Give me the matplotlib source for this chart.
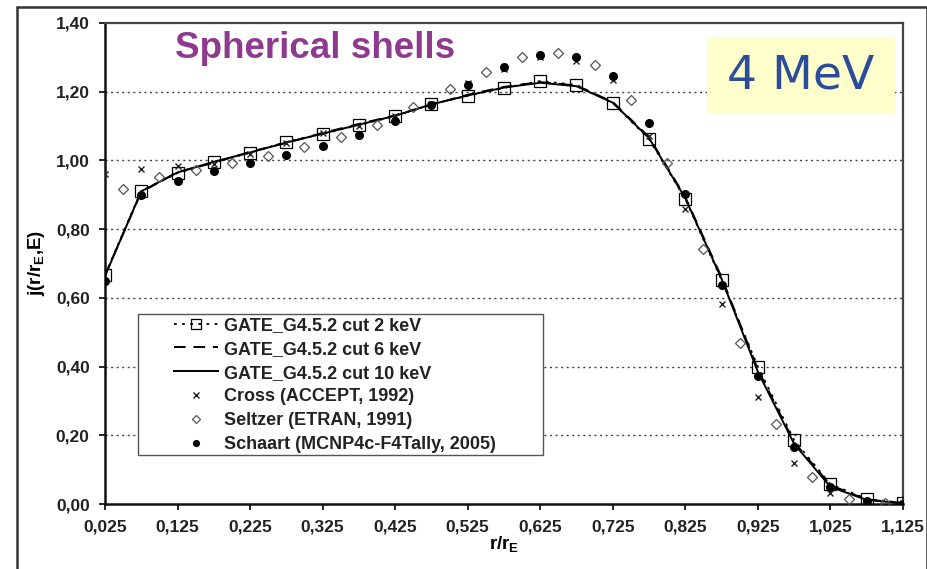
import matplotlib
import matplotlib.pyplot as plt
from matplotlib.patches import Rectangle

matplotlib.use("Agg")

plt.rcParams["font.family"] = ["Liberation Sans", "DejaVu Sans"]
plt.rcParams["mathtext.fontset"] = "custom"
plt.rcParams["mathtext.rm"] = "Liberation Sans:bold"
plt.rcParams["mathtext.bf"] = "Liberation Sans:bold"

# --- data ---
x_gate = [0.025, 0.075, 0.125, 0.175, 0.225, 0.275, 0.325, 0.375, 0.425, 0.475,
          0.525, 0.575, 0.625, 0.675, 0.725, 0.775, 0.825, 0.875, 0.925, 0.975,
          1.025, 1.075, 1.125]
gate_2kev = [0.667, 0.911, 0.963, 0.995, 1.022, 1.054, 1.077, 1.103, 1.129, 1.164,
             1.188, 1.211, 1.231, 1.220, 1.167, 1.062, 0.888, 0.652, 0.400, 0.186,
             0.058, 0.015, 0.003]
gate_6kev = [0.665, 0.908, 0.966, 0.993, 1.025, 1.051, 1.080, 1.106, 1.131, 1.162,
             1.191, 1.214, 1.228, 1.218, 1.170, 1.068, 0.893, 0.660, 0.392, 0.180,
             0.055, 0.013, 0.003]
gate_10kev = [0.663, 0.910, 0.965, 0.996, 1.023, 1.052, 1.078, 1.104, 1.130, 1.163,
              1.189, 1.212, 1.226, 1.216, 1.168, 1.065, 0.890, 0.655, 0.385, 0.175,
              0.050, 0.012, 0.002]

x_cross = x_gate
cross = [0.960, 0.975, 0.985, 0.990, 1.020, 1.050, 1.080, 1.100, 1.130, 1.165,
         1.225, 1.265, 1.300, 1.290, 1.234, 1.071, 0.858, 0.582, 0.311, 0.119,
         0.032, 0.008, 0.002]

x_seltzer = [0.05, 0.10, 0.15, 0.20, 0.25, 0.30, 0.35, 0.40, 0.45, 0.50, 0.55,
             0.60, 0.65, 0.70, 0.75, 0.80, 0.85, 0.90, 0.95, 1.00, 1.05, 1.10]
seltzer = [0.917, 0.952, 0.972, 0.992, 1.013, 1.039, 1.068, 1.103, 1.156, 1.208,
           1.257, 1.300, 1.313, 1.278, 1.176, 0.993, 0.742, 0.469, 0.233, 0.079,
           0.015, 0.003]

x_schaart = x_gate
schaart = [0.649, 0.899, 0.940, 0.969, 0.992, 1.016, 1.042, 1.074, 1.115, 1.161,
           1.220, 1.272, 1.307, 1.301, 1.246, 1.109, 0.902, 0.637, 0.373, 0.166,
           0.049, 0.009, 0.000]

x_ticks = [0.025, 0.125, 0.225, 0.325, 0.425, 0.525, 0.625, 0.725, 0.825, 0.925,
           1.025, 1.125]
x_ticklabels = ["0,025", "0,125", "0,225", "0,325", "0,425", "0,525", "0,625",
                "0,725", "0,825", "0,925", "1,025", "1,125"]
y_ticks = [0.0, 0.2, 0.4, 0.6, 0.8, 1.0, 1.2, 1.4]
y_ticklabels = ["0,00", "0,20", "0,40", "0,60", "0,80", "1,00", "1,20", "1,40"]

fig = plt.figure(figsize=(9.28, 5.69), dpi=100)
ax = fig.add_axes([0.1131, 0.1142, 0.8599, 0.8454])

# outer frame of the picture
fig.patches.append(Rectangle((17 / 928, -0.02), 910 / 928, 1.0 - 7 / 569 + 0.02,
                             transform=fig.transFigure, fill=False,
                             edgecolor="#333333", linewidth=1.8))

for y in y_ticks[1:-1]:
    ax.axhline(y, color="#444444", linestyle=(0, (1.5, 2.5)), linewidth=1.0, zorder=1)

ax.plot(x_gate, gate_2kev, color="black", linestyle=(0, (1.5, 3)), linewidth=1.3,
        marker="s", markersize=9, fillstyle="none", markeredgewidth=0.9,
        label="GATE_G4.5.2 cut 2 keV", zorder=3)
ax.plot(x_gate, gate_6kev, color="black", linestyle=(0, (6, 4)), linewidth=1.4,
        label="GATE_G4.5.2 cut 6 keV", zorder=3)
ax.plot(x_gate, gate_10kev, color="black", linestyle="-", linewidth=1.4,
        label="GATE_G4.5.2 cut 10 keV", zorder=3)
ax.plot(x_cross, cross, linestyle="none", marker="x", markersize=5,
        color="#222222", markeredgewidth=1.0, label="Cross (ACCEPT, 1992)", zorder=4)
ax.plot(x_seltzer, seltzer, linestyle="none", marker="D", markersize=5.5,
        fillstyle="none", color="#555555", markeredgewidth=0.9,
        label="Seltzer (ETRAN, 1991)", zorder=4)
ax.plot(x_schaart, schaart, linestyle="none", marker="o", markersize=5.5,
        color="black", label="Schaart (MCNP4c-F4Tally, 2005)", zorder=4)

ax.set_xlim(0.025, 1.125)
ax.set_ylim(0.0, 1.4)
ax.set_xticks(x_ticks)
ax.set_xticklabels(x_ticklabels)
ax.set_yticks(y_ticks)
ax.set_yticklabels(y_ticklabels)
ax.tick_params(direction="out", length=4, width=1.2, labelsize=12.5, pad=7)
for lab in ax.get_xticklabels() + ax.get_yticklabels():
    lab.set_fontweight("bold")
    lab.set_color("#222222")

for side in ["left", "bottom"]:
    ax.spines[side].set_linewidth(1.8)
    ax.spines[side].set_color("#111111")
for side in ["top", "right"]:
    ax.spines[side].set_linewidth(1.6)
    ax.spines[side].set_color("#444444")

ax.set_xlabel(r"r/r$_\mathrm{E}$", fontsize=13.5, fontweight="bold", labelpad=0)
ax.set_ylabel(r"j(r/r$_\mathrm{E}$,E)", fontsize=13.5, fontweight="bold", labelpad=6)

# legend box drawn separately so the entries can sit indented like the original
ax.add_patch(Rectangle((0.041, 0.102), 0.508, 0.293, transform=ax.transAxes,
                       facecolor="white", edgecolor="#555555", linewidth=1.0,
                       zorder=5))
leg = ax.legend(loc="upper left", bbox_to_anchor=(0.087, 0.389),
                frameon=False, fontsize=13, handlelength=2.4,
                handletextpad=0.35, labelspacing=0.38, borderpad=0.0,
                borderaxespad=0.0, markerscale=0.75)
leg.set_zorder(6)
for t in leg.get_texts():
    t.set_fontweight("bold")
    t.set_color("#222222")

ax.text(0.263, 0.948, "Spherical shells", transform=ax.transAxes, ha="center",
        va="center", fontsize=26.5, fontweight="bold", color="#8E3A8E")

ax.add_patch(Rectangle((0.754, 0.813), 0.2356, 0.158, transform=ax.transAxes,
                       facecolor="#FFFFCC", edgecolor="none", zorder=5))
ax.text(0.872, 0.889, "4 MeV", transform=ax.transAxes, ha="center", va="center",
        fontsize=34, color="#2B4C9B", family=["DejaVu Sans"], zorder=6)

fig.savefig("out.png", dpi=100)
